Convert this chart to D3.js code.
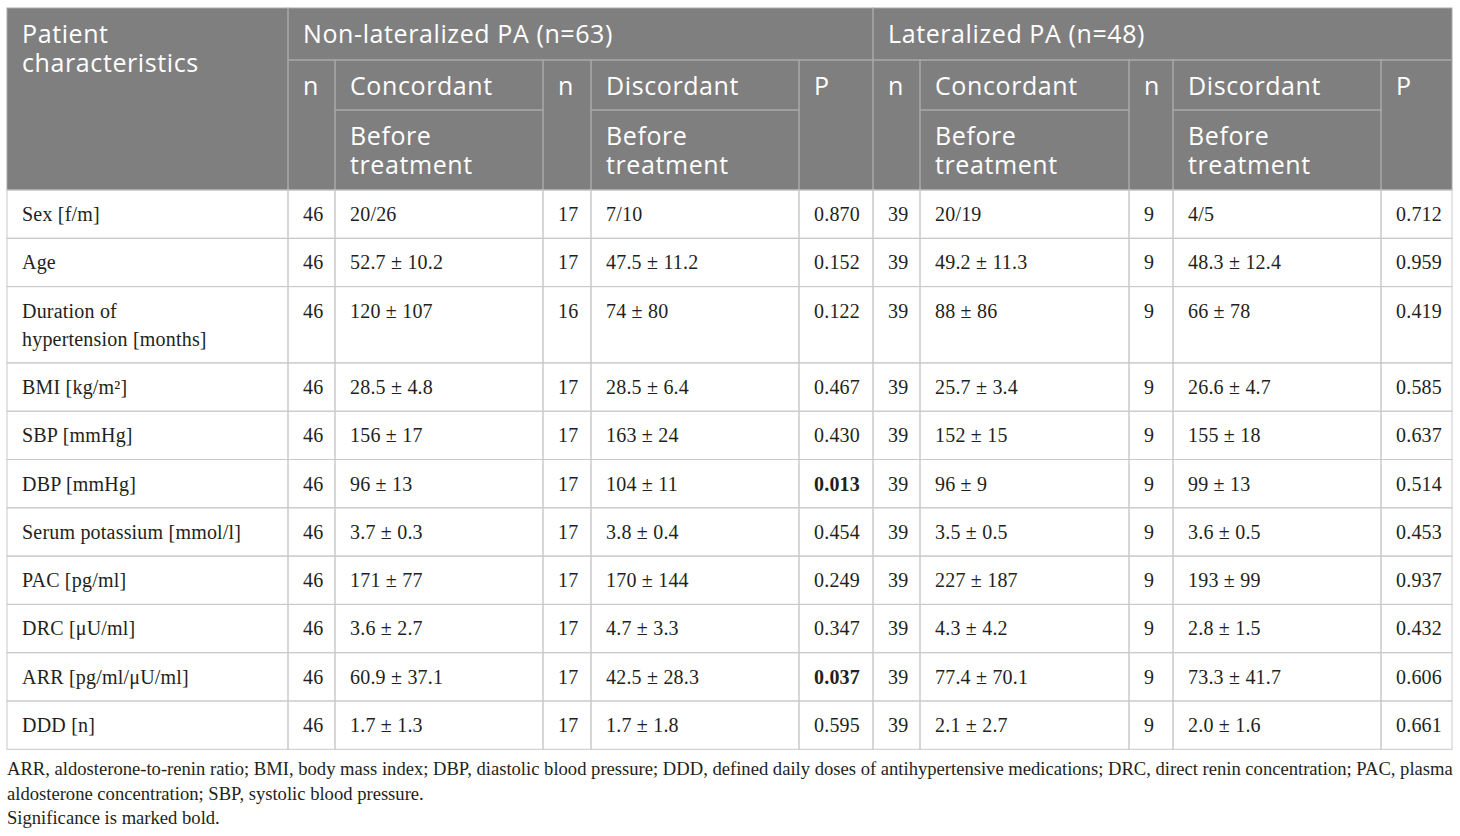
<!DOCTYPE html>
<html>
<head>
<meta charset="utf-8">
<script src="https://cdn.jsdelivr.net/npm/d3@7"></script>
<style>
  body { margin: 0; background: #fff; }
</style>
</head>
<body>
<svg class="table" width="1460" height="836"></svg>
<script>
// PA patient characteristics table

// row labels and values
let characteristics = ["Sex [f/m]", "Age", "Duration of\nhypertension [months]", "BMI [kg/m²]",
                       "SBP [mmHg]", "DBP [mmHg]", "Serum potassium [mmol/l]", "PAC [pg/ml]",
                       "DRC [μU/ml]", "ARR [pg/ml/μU/ml]", "DDD [n]"];

let nonlat_conc_n = [46, 46, 46, 46, 46, 46, 46, 46, 46, 46, 46];
let nonlat_conc = ["20/26", "52.7 ± 10.2", "120 ± 107", "28.5 ± 4.8", "156 ± 17", "96 ± 13",
                   "3.7 ± 0.3", "171 ± 77", "3.6 ± 2.7", "60.9 ± 37.1", "1.7 ± 1.3"];
let nonlat_disc_n = [17, 17, 16, 17, 17, 17, 17, 17, 17, 17, 17];
let nonlat_disc = ["7/10", "47.5 ± 11.2", "74 ± 80", "28.5 ± 6.4", "163 ± 24", "104 ± 11",
                   "3.8 ± 0.4", "170 ± 144", "4.7 ± 3.3", "42.5 ± 28.3", "1.7 ± 1.8"];
let nonlat_p = ["0.870", "0.152", "0.122", "0.467", "0.430", "0.013", "0.454", "0.249",
                "0.347", "0.037", "0.595"];

let lat_conc_n = [39, 39, 39, 39, 39, 39, 39, 39, 39, 39, 39];
let lat_conc = ["20/19", "49.2 ± 11.3", "88 ± 86", "25.7 ± 3.4", "152 ± 15", "96 ± 9",
                "3.5 ± 0.5", "227 ± 187", "4.3 ± 4.2", "77.4 ± 70.1", "2.1 ± 2.7"];
let lat_disc_n = [9, 9, 9, 9, 9, 9, 9, 9, 9, 9, 9];
let lat_disc = ["4/5", "48.3 ± 12.4", "66 ± 78", "26.6 ± 4.7", "155 ± 18", "99 ± 13",
                "3.6 ± 0.5", "193 ± 99", "2.8 ± 1.5", "73.3 ± 41.7", "2.0 ± 1.6"];
let lat_p = ["0.712", "0.959", "0.419", "0.585", "0.637", "0.514", "0.453", "0.937",
             "0.432", "0.606", "0.661"];

// significant p values (shown bold)
let significant = ["0.013", "0.037"];

let groups = ["Non-lateralized PA (n=63)", "Lateralized PA (n=48)"];
let subheads = ["n", "Concordant", "n", "Discordant", "P"];
let timepoint = "Before\ntreatment";

let footnotes = [
    "ARR, aldosterone-to-renin ratio; BMI, body mass index; DBP, diastolic blood pressure; DDD, defined daily doses of antihypertensive medications; DRC, direct renin concentration; PAC, plasma",
    "aldosterone concentration; SBP, systolic blood pressure.",
    "Significance is marked bold."
];

function table_plot() {
    let svg = d3.select("svg.table");

    let left = 7;
    let top = 8;
    let col_widths = [281, 47, 208, 48, 208, 74, 47, 209, 44, 208, 71];
    let col_x = [left];
    col_widths.forEach(w => col_x.push(col_x[col_x.length - 1] + w));

    // header rows, then body rows (two-line rows get one extra line)
    let head_y = [top, top + 52, top + 102, top + 182];
    let line_gap = 28;
    let row_h = 48.3;
    let body_y = [head_y[3]];
    characteristics.forEach(c => {
        let lines = c.split("\n").length;
        body_y.push(body_y[body_y.length - 1] + row_h + (lines - 1) * line_gap);
    });

    let pad = 15;
    let head_fill = "#7f7f7f";
    let head_line = "#a9a9a9";
    let body_line = "#c9c9c9";
    let serif = "'Liberation Serif', 'Times New Roman', serif";
    let sans = "'Open Sans', 'Noto Sans', sans-serif";

    // header cells: column span [c0, c1), header row span [r0, r1)
    let head_cells = [{c0: 0, c1: 1, r0: 0, r1: 3, text: "Patient\ncharacteristics"}];
    groups.forEach((g, gi) => {
        let base = 1 + gi * 5;
        head_cells.push({c0: base, c1: base + 5, r0: 0, r1: 1, text: g});
        subheads.forEach((s, si) => {
            let c = base + si;
            if (s == "n" || s == "P") {
                head_cells.push({c0: c, c1: c + 1, r0: 1, r1: 3, text: s});
            } else {
                head_cells.push({c0: c, c1: c + 1, r0: 1, r1: 2, text: s});
                head_cells.push({c0: c, c1: c + 1, r0: 2, r1: 3, text: timepoint});
            }
        });
    });

    let head = svg.append("g").attr("class", "header");

    head.append("rect")
        .attr("x", col_x[0])
        .attr("y", head_y[0])
        .attr("width", col_x[col_x.length - 1] - col_x[0])
        .attr("height", head_y[3] - head_y[0])
        .attr("fill", head_fill);

    let hc = head.selectAll("g.cell")
        .data(head_cells)
        .enter()
        .append("g")
        .attr("class", "cell");

    hc.append("rect")
        .attr("x", d => col_x[d.c0])
        .attr("y", d => head_y[d.r0])
        .attr("width", d => col_x[d.c1] - col_x[d.c0])
        .attr("height", d => head_y[d.r1] - head_y[d.r0])
        .attr("fill", "none")
        .attr("stroke", head_line)
        .attr("stroke-width", 1);

    hc.each(function(d) {
        let t = d3.select(this).append("text")
            .attr("x", col_x[d.c0] + pad)
            .attr("y", head_y[d.r0] + 35)
            .attr("fill", "#ffffff")
            .attr("font-family", sans)
            .attr("font-size", "25px")
            .attr("letter-spacing", "0.6px");
        d.text.split("\n").forEach((line, i) => {
            t.append("tspan")
                .attr("x", col_x[d.c0] + pad)
                .attr("dy", i == 0 ? 0 : 29)
                .text(line);
        });
    });

    // body
    let rows = characteristics.map((c, i) => [
        c, nonlat_conc_n[i], nonlat_conc[i], nonlat_disc_n[i], nonlat_disc[i], nonlat_p[i],
        lat_conc_n[i], lat_conc[i], lat_disc_n[i], lat_disc[i], lat_p[i]
    ]);

    let body = svg.append("g").attr("class", "body");

    let row = body.selectAll("g.row")
        .data(rows)
        .enter()
        .append("g")
        .attr("class", "row");

    row.each(function(r, ri) {
        let g = d3.select(this);
        r.forEach((v, ci) => {
            g.append("rect")
                .attr("x", col_x[ci])
                .attr("y", body_y[ri])
                .attr("width", col_widths[ci])
                .attr("height", body_y[ri + 1] - body_y[ri])
                .attr("fill", "none")
                .attr("stroke", body_line)
                .attr("stroke-width", 1);

            let bold = (ci == 5 || ci == 10) && significant.includes(v);
            let t = g.append("text")
                .attr("x", col_x[ci] + pad)
                .attr("y", body_y[ri] + 31)
                .attr("fill", "#231f20")
                .attr("font-family", serif)
                .attr("font-size", "20px")
                .attr("letter-spacing", "0.2px")
                .attr("font-weight", bold ? "bold" : "normal");
            String(v).split("\n").forEach((line, li) => {
                t.append("tspan")
                    .attr("x", col_x[ci] + pad)
                    .attr("dy", li == 0 ? 0 : line_gap)
                    .text(line);
            });
        });
    });

    // footnotes under the table
    let foot_top = body_y[body_y.length - 1];
    svg.append("g")
        .attr("class", "footnotes")
        .selectAll("text")
        .data(footnotes)
        .enter()
        .append("text")
        .attr("x", left)
        .attr("y", (d, i) => foot_top + 26 + i * 24.5)
        .attr("fill", "#231f20")
        .attr("font-family", serif)
        .attr("font-size", "18.6px")
        .text(d => d);
}

table_plot();
</script>
</body>
</html>
